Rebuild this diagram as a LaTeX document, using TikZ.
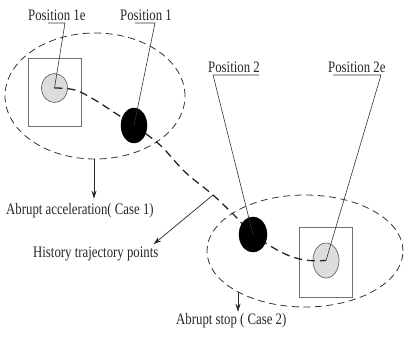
\documentclass[tikz,border=0pt]{standalone}
\usepackage{fontspec}
\setmainfont{Liberation Serif}[FakeStretch=0.8]
\usepackage{tikz}
\usetikzlibrary{arrows.meta,positioning,calc,shapes.geometric}
\definecolor{zonecol}{HTML}{333333}
\definecolor{boxcol}{HTML}{707070}
\definecolor{estcol}{HTML}{DCDCDC}
\tikzset{
  zone/.style={
    ellipse, draw=zonecol, dash pattern=on 7pt off 4.5pt,
    line width=0.8pt, inner sep=0pt,
  },
  estbox/.style={
    rectangle, draw=boxcol, line width=0.8pt, inner sep=0pt,
    minimum width=53pt, minimum height=#1,
  },
  estpos/.style={
    ellipse, draw=black!60, fill=estcol, line width=0.7pt, inner sep=0pt,
  },
  realpos/.style={
    ellipse, draw=black, fill=black, inner sep=0pt,
  },
  lbl/.style={font=\fontsize{16}{19}\selectfont, text=black!85, inner sep=0pt, anchor=base west},
  leader/.style={line width=0.6pt, black!80},
  traj/.style={line width=1.3pt, dash pattern=on 8pt off 5pt, black!85},
  arr/.style={-{Stealth[length=8pt,width=5pt]}, line width=0.7pt, black!85},
}
\begin{document}
\begin{tikzpicture}[x=1pt,y=-1pt]
\useasboundingbox (0,0) rectangle (405,338);

% ===== Zones =====
\node[zone, minimum width=180pt, minimum height=126pt] (zoneone) at (95,96) {};
\node[zone, minimum width=196pt, minimum height=112pt] (zonetwo) at (305,251) {};

% ===== Estimated positions =====
\node[estbox=68pt] (boxone) at (54.5,92) {};
\node[estbox=70pt] (boxtwo) at (325.5,262) {};
\node[estpos, minimum width=26pt, minimum height=29pt] (lightone) at (54.5,88) {};
\node[estpos, minimum width=26pt, minimum height=35pt] (lighttwo) at (326,260.5) {};

% ===== Trajectory =====
\coordinate (histpt) at (213,195);
\draw[traj] plot[smooth, tension=0.6] coordinates {
  (lightone.center) (75,90) (95,100) (112,111) (134,125.5)
  (160,145) (185,172) (histpt) (236,217) (253,234.5)
  (283,253) (305,260) (lighttwo.center)};

% ===== Real positions =====
\node[realpos, minimum width=26pt, minimum height=35pt] (blackone) at (134,125.5) {};
\node[realpos, minimum width=28pt, minimum height=35pt] (blacktwo) at (253,234.5) {};

% ===== Labels =====
\node[lbl] (lblonee) at (28,20) {Position 1e};
\node[lbl] (lblone) at (120,20) {Position 1};
\node[lbl] (lbltwo) at (208,72) {Position 2};
\node[lbl] (lbltwoe) at (328,72) {Position 2e};
\node[lbl] (lblacc) at (6,214) {Abrupt acceleration( Case 1)};
\node[lbl] (lblhist) at (33,257) {History trajectory points};
\node[lbl] (lblstop) at (176,324) {Abrupt stop ( Case 2)};

\draw[leader] ([xshift=20pt,yshift=-3pt]lblonee.base west) -- ([xshift=37pt,yshift=-3pt]lblonee.base west) -- (lightone.center);
\draw[leader] ([xshift=15pt,yshift=-3pt]lblone.base west) -- ([xshift=35pt,yshift=-3pt]lblone.base west) -- (blackone.center);
\draw[leader] ([xshift=51pt,yshift=-3pt]lbltwo.base west) -- ([xshift=5pt,yshift=-3pt]lbltwo.base west) -- (blacktwo.center);
\draw[leader] ([xshift=5pt,yshift=-3pt]lbltwoe.base west) -- ([xshift=53pt,yshift=-3pt]lbltwoe.base west) -- (lighttwo.center);

% ===== Arrows =====
\coordinate (accpt) at (94,159);
\coordinate (stoppt) at (238,292);
\draw[arr] (accpt) -- ([yshift=4pt]accpt |- lblacc.north);
\draw[arr] (histpt) -- ([xshift=-5pt,yshift=2pt]lblhist.north east);
\draw[arr] (stoppt) -- ([yshift=1pt]stoppt |- lblstop.north);

\end{tikzpicture}
\end{document}
